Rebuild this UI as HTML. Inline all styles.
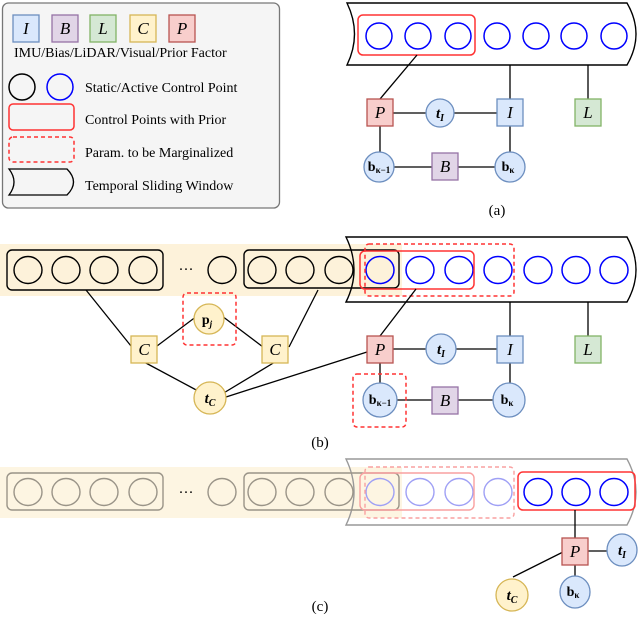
<!DOCTYPE html>
<html><head><meta charset="utf-8"><style>
html,body{margin:0;padding:0;background:#fff;}
svg{display:block;font-family:"Liberation Serif",serif;}
</style></head><body>
<svg width="640" height="619" viewBox="0 0 640 619" xmlns="http://www.w3.org/2000/svg">
<defs>
<g id="sqI"><rect x="-13" y="-13" width="26" height="27" fill="#dae8fc" stroke="#6c8ebf" stroke-width="1.3"/><text x="0" y="6" font-size="17" font-style="italic" text-anchor="middle">I</text></g>
<g id="sqB"><rect x="-13" y="-13" width="26" height="27" fill="#e1d5e7" stroke="#9673a6" stroke-width="1.3"/><text x="0" y="6" font-size="17" font-style="italic" text-anchor="middle">B</text></g>
<g id="sqL"><rect x="-13" y="-13" width="26" height="27" fill="#d5e8d4" stroke="#82b366" stroke-width="1.3"/><text x="0" y="6" font-size="17" font-style="italic" text-anchor="middle">L</text></g>
<g id="sqC"><rect x="-13" y="-13" width="26" height="27" fill="#fff2cc" stroke="#d6b656" stroke-width="1.3"/><text x="0" y="6" font-size="17" font-style="italic" text-anchor="middle">C</text></g>
<g id="sqP"><rect x="-13" y="-13" width="26" height="27" fill="#f8cecc" stroke="#b85450" stroke-width="1.3"/><text x="0" y="6" font-size="17" font-style="italic" text-anchor="middle">P</text></g>
</defs>

<!-- Legend -->
<rect x="2.5" y="3" width="277" height="205" rx="6" fill="#f5f5f5" stroke="#777" stroke-width="1.3"/>
<use href="#sqI" x="26" y="28"/><use href="#sqB" x="65" y="28"/><use href="#sqL" x="103" y="28"/><use href="#sqC" x="143" y="28"/><use href="#sqP" x="182" y="28"/>
<text x="14" y="57" font-size="14">IMU/Bias/LiDAR/Visual/Prior Factor</text>
<circle cx="22" cy="87" r="13" fill="none" stroke="#000" stroke-width="1.5"/>
<circle cx="60" cy="87" r="13" fill="none" stroke="#00f" stroke-width="1.5"/>
<text x="85" y="92" font-size="14">Static/Active Control Point</text>
<rect x="9" y="104" width="65" height="26" rx="4" fill="none" stroke="#f33" stroke-width="1.5"/>
<text x="85" y="124" font-size="14">Control Points with Prior</text>
<rect x="9" y="137" width="65" height="25" rx="4" fill="none" stroke="#f33" stroke-width="1.5" stroke-dasharray="4,3"/>
<text x="85" y="157" font-size="14">Param. to be Marginalized</text>
<path d="M9,169 L67,169 Q80,182 67,195 L9,195 Q19,182 9,169 Z" fill="none" stroke="#000" stroke-width="1.3"/>
<text x="85" y="190" font-size="14">Temporal Sliding Window</text>

<!-- (a) -->
<path d="M347,3 L627,3 Q645,34 627,65 L347,65 Q362,34 347,3 Z" fill="#fff" stroke="#000" stroke-width="1.4"/>
<g fill="none" stroke="#00f" stroke-width="1.5">
<circle cx="379" cy="36" r="13"/><circle cx="418" cy="36" r="13"/><circle cx="458" cy="36" r="13"/><circle cx="497" cy="36" r="13"/><circle cx="536" cy="36" r="13"/><circle cx="574" cy="36" r="13"/><circle cx="614" cy="36" r="13"/>
</g>
<rect x="358" y="15" width="117" height="40" rx="5" fill="none" stroke="#f33" stroke-width="1.5"/>
<g stroke="#000" stroke-width="1.3">
<line x1="417" y1="55" x2="380" y2="99"/><line x1="510" y1="65" x2="510" y2="99"/><line x1="588" y1="65" x2="588" y2="99"/>
<line x1="393" y1="113" x2="497" y2="113"/><line x1="380" y1="126" x2="380" y2="160"/><line x1="510" y1="126" x2="510" y2="160"/>
<line x1="380" y1="167" x2="510" y2="167"/>
</g>
<use href="#sqP" x="380" y="112"/>
<circle cx="440" cy="113" r="14" fill="#dae8fc" stroke="#6c8ebf" stroke-width="1.3"/><text x="440" y="118" font-size="15" font-style="italic" font-weight="bold" text-anchor="middle">t<tspan font-size="10" dy="3">I</tspan></text>
<use href="#sqI" x="510" y="112"/><use href="#sqL" x="588" y="112"/>
<circle cx="379" cy="167" r="15" fill="#dae8fc" stroke="#6c8ebf" stroke-width="1.3"/><text x="379" y="171" font-size="14" font-weight="bold" text-anchor="middle">b<tspan font-size="9" dy="2">κ−1</tspan></text>
<use href="#sqB" x="445" y="166"/>
<circle cx="510" cy="167" r="15" fill="#dae8fc" stroke="#6c8ebf" stroke-width="1.3"/><text x="508" y="171" font-size="14" font-weight="bold" text-anchor="middle">b<tspan font-size="9" dy="2">κ</tspan></text>
<text x="497" y="215" font-size="15" text-anchor="middle">(a)</text>

<!-- (b) -->
<rect x="0" y="244" width="402" height="52" fill="#fdf2da"/>
<path d="M346,237 L627,237 Q645,270 627,302 L346,302 Q362,270 346,237 Z" fill="none" stroke="#000" stroke-width="1.4"/>
<g fill="none" stroke="#000" stroke-width="1.4">
<rect x="7" y="250" width="156" height="40" rx="5"/><rect x="244" y="250" width="155" height="38" rx="5"/>
<ellipse cx="28" cy="270" rx="14" ry="13.5"/><ellipse cx="66" cy="270" rx="14" ry="13.5"/><ellipse cx="104" cy="270" rx="14" ry="13.5"/><ellipse cx="143" cy="270" rx="14" ry="13.5"/>
<ellipse cx="222" cy="270" rx="14" ry="13.5"/><ellipse cx="262" cy="270" rx="14" ry="13.5"/><ellipse cx="300" cy="270" rx="14" ry="13.5"/><ellipse cx="339" cy="270" rx="14" ry="13.5"/>
</g>
<text x="186" y="274" font-size="15" text-anchor="middle">···</text>
<g fill="none" stroke="#00f" stroke-width="1.5">
<ellipse cx="380" cy="270" rx="14" ry="13.5"/><ellipse cx="420" cy="270" rx="14" ry="13.5"/><ellipse cx="459" cy="270" rx="14" ry="13.5"/><ellipse cx="498" cy="270" rx="14" ry="13.5"/><ellipse cx="538" cy="270" rx="14" ry="13.5"/><ellipse cx="576" cy="270" rx="14" ry="13.5"/><ellipse cx="614" cy="270" rx="14" ry="13.5"/>
</g>
<rect x="365" y="244" width="149" height="52" rx="4" fill="none" stroke="#f33" stroke-width="1.5" stroke-dasharray="4,3"/>
<rect x="360" y="251" width="114" height="38" rx="5" fill="none" stroke="#f33" stroke-width="1.5"/>
<g stroke="#000" stroke-width="1.3">
<line x1="86" y1="290" x2="131" y2="346"/><line x1="157" y1="346" x2="197" y2="316"/><line x1="222" y1="316" x2="263" y2="347"/><line x1="289" y1="347" x2="318" y2="290"/>
<line x1="144" y1="362" x2="200" y2="392"/><line x1="275" y1="362" x2="222" y2="394"/><line x1="226" y1="397" x2="367" y2="352"/>
<line x1="416" y1="289" x2="380" y2="336"/><line x1="510" y1="302" x2="510" y2="336"/><line x1="588" y1="302" x2="588" y2="336"/>
<line x1="393" y1="349" x2="497" y2="349"/><line x1="380" y1="362" x2="380" y2="385"/><line x1="510" y1="362" x2="510" y2="385"/><line x1="380" y1="400" x2="510" y2="400"/>
</g>
<use href="#sqC" x="144" y="349"/><use href="#sqC" x="275" y="349"/>
<rect x="183" y="293" width="53" height="52" rx="4" fill="none" stroke="#f33" stroke-width="1.5" stroke-dasharray="4,3"/>
<circle cx="209" cy="319" r="15" fill="#fff2cc" stroke="#d6b656" stroke-width="1.3"/><text x="207" y="324" font-size="14" font-weight="bold" text-anchor="middle">p<tspan font-size="9" dy="3" font-style="italic">j</tspan></text>
<circle cx="210" cy="398" r="16" fill="#fff2cc" stroke="#d6b656" stroke-width="1.3"/><text x="210" y="403" font-size="15" font-style="italic" font-weight="bold" text-anchor="middle">t<tspan font-size="10" dy="3">C</tspan></text>
<use href="#sqP" x="380" y="349"/>
<circle cx="441" cy="349" r="15" fill="#dae8fc" stroke="#6c8ebf" stroke-width="1.3"/><text x="441" y="354" font-size="15" font-style="italic" font-weight="bold" text-anchor="middle">t<tspan font-size="10" dy="3">I</tspan></text>
<use href="#sqI" x="510" y="349"/><use href="#sqL" x="588" y="349"/>
<rect x="353" y="374" width="53" height="53" rx="4" fill="none" stroke="#f33" stroke-width="1.5" stroke-dasharray="4,3"/>
<ellipse cx="380" cy="400" rx="17" ry="17" fill="#dae8fc" stroke="#6c8ebf" stroke-width="1.3"/><text x="380" y="404" font-size="14" font-weight="bold" text-anchor="middle">b<tspan font-size="9" dy="2">κ−1</tspan></text>
<use href="#sqB" x="445" y="400"/>
<ellipse cx="509" cy="400" rx="16" ry="17" fill="#dae8fc" stroke="#6c8ebf" stroke-width="1.3"/><text x="507" y="404" font-size="14" font-weight="bold" text-anchor="middle">b<tspan font-size="9" dy="2">κ</tspan></text>
<text x="320" y="447" font-size="15" text-anchor="middle">(b)</text>

<!-- (c) -->
<rect x="0" y="467" width="402" height="51" fill="#fdf5e2"/>
<path d="M346,459 L627,459 Q645,492 627,525 L346,525 Q362,492 346,459 Z" fill="none" stroke="#999" stroke-width="1.4"/>
<g fill="none" stroke="#9a9488" stroke-width="1.4">
<rect x="7" y="473" width="156" height="37" rx="5"/><rect x="244" y="473" width="155" height="37" rx="5"/>
<ellipse cx="28" cy="492" rx="14" ry="13.5"/><ellipse cx="66" cy="492" rx="14" ry="13.5"/><ellipse cx="104" cy="492" rx="14" ry="13.5"/><ellipse cx="143" cy="492" rx="14" ry="13.5"/>
<ellipse cx="222" cy="492" rx="14" ry="13.5"/><ellipse cx="262" cy="492" rx="14" ry="13.5"/><ellipse cx="300" cy="492" rx="14" ry="13.5"/><ellipse cx="339" cy="492" rx="14" ry="13.5"/>
</g>
<text x="186" y="497" font-size="15" text-anchor="middle">···</text>
<g fill="none" stroke="#9fa0f5" stroke-width="1.4">
<ellipse cx="380" cy="492" rx="14" ry="13.5"/><ellipse cx="420" cy="492" rx="14" ry="13.5"/><ellipse cx="459" cy="492" rx="14" ry="13.5"/><ellipse cx="498" cy="492" rx="14" ry="13.5"/>
</g>
<rect x="365" y="467" width="149" height="51" rx="4" fill="none" stroke="#f9a0a0" stroke-width="1.4" stroke-dasharray="4,3"/>
<rect x="360" y="473" width="114" height="37" rx="5" fill="none" stroke="#f9a0a0" stroke-width="1.4"/>
<g fill="none" stroke="#00f" stroke-width="1.5">
<ellipse cx="538" cy="492" rx="14" ry="13.5"/><ellipse cx="576" cy="492" rx="14" ry="13.5"/><ellipse cx="614" cy="492" rx="14" ry="13.5"/>
</g>
<rect x="518" y="472" width="117" height="38" rx="5" fill="none" stroke="#f33" stroke-width="1.5"/>
<g stroke="#000" stroke-width="1.3">
<line x1="575" y1="510" x2="575" y2="540"/><line x1="588" y1="551" x2="607" y2="551"/><line x1="575" y1="563" x2="575" y2="578"/><line x1="563" y1="552" x2="513" y2="577"/>
</g>
<use href="#sqP" x="575" y="551"/>
<ellipse cx="622" cy="550" rx="15" ry="16" fill="#dae8fc" stroke="#6c8ebf" stroke-width="1.3"/><text x="622" y="555" font-size="15" font-style="italic" font-weight="bold" text-anchor="middle">t<tspan font-size="10" dy="3">I</tspan></text>
<ellipse cx="575" cy="592" rx="15" ry="16" fill="#dae8fc" stroke="#6c8ebf" stroke-width="1.3"/><text x="573" y="596" font-size="14" font-weight="bold" text-anchor="middle">b<tspan font-size="9" dy="2">κ</tspan></text>
<ellipse cx="512" cy="595" rx="16" ry="16" fill="#fff2cc" stroke="#d6b656" stroke-width="1.3"/><text x="512" y="600" font-size="15" font-style="italic" font-weight="bold" text-anchor="middle">t<tspan font-size="10" dy="3">C</tspan></text>
<text x="320" y="611" font-size="15" text-anchor="middle">(c)</text>
</svg>
</body></html>
